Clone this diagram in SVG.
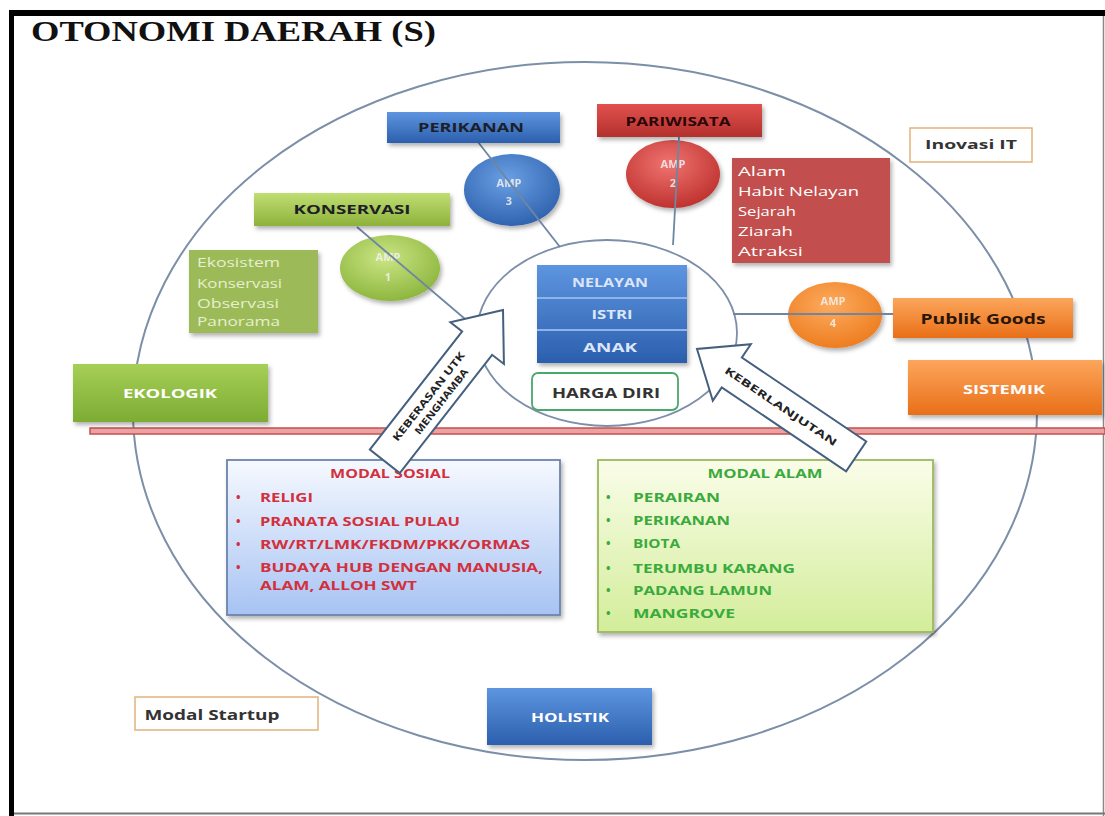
<svg xmlns="http://www.w3.org/2000/svg" width="1105" height="816" viewBox="0 0 1105 816">
<defs>
<linearGradient id="gBlue" x1="0" y1="0" x2="0" y2="1"><stop offset="0" stop-color="#5e95e0"/><stop offset="1" stop-color="#2b5fad"/></linearGradient>
<linearGradient id="gRed" x1="0" y1="0" x2="0" y2="1"><stop offset="0" stop-color="#e2514e"/><stop offset="1" stop-color="#b3302d"/></linearGradient>
<linearGradient id="gGreen" x1="0" y1="0" x2="0" y2="1"><stop offset="0" stop-color="#c0de72"/><stop offset="1" stop-color="#8db23b"/></linearGradient>
<linearGradient id="gEko" x1="0" y1="0" x2="0" y2="1"><stop offset="0" stop-color="#a6cf56"/><stop offset="1" stop-color="#7dac33"/></linearGradient>
<linearGradient id="gOrange" x1="0" y1="0" x2="0" y2="1"><stop offset="0" stop-color="#fca65c"/><stop offset="1" stop-color="#e96f18"/></linearGradient>
<linearGradient id="gSosial" x1="0" y1="0" x2="0" y2="1"><stop offset="0" stop-color="#f6f9ff"/><stop offset="1" stop-color="#a7c3f3"/></linearGradient>
<linearGradient id="gAlam" x1="0" y1="0" x2="0" y2="1"><stop offset="0" stop-color="#fafde9"/><stop offset="1" stop-color="#d3ed9a"/></linearGradient>
<radialGradient id="rBlue" cx="0.45" cy="0.35" r="0.7"><stop offset="0" stop-color="#6aa0e4"/><stop offset="1" stop-color="#2c5fab"/></radialGradient>
<radialGradient id="rRed" cx="0.45" cy="0.35" r="0.7"><stop offset="0" stop-color="#f07470"/><stop offset="1" stop-color="#bb2e2b"/></radialGradient>
<radialGradient id="rGreen" cx="0.45" cy="0.35" r="0.7"><stop offset="0" stop-color="#cbe584"/><stop offset="1" stop-color="#89b33a"/></radialGradient>
<radialGradient id="rOrange" cx="0.45" cy="0.35" r="0.7"><stop offset="0" stop-color="#fdab5e"/><stop offset="1" stop-color="#ec7a1c"/></radialGradient>
<filter id="sh" x="-10%" y="-10%" width="130%" height="140%"><feDropShadow dx="2" dy="3" stdDeviation="2" flood-color="#000" flood-opacity="0.3"/></filter>
</defs>
<style>
.lbl{font-family:"Open Sans","Liberation Sans",sans-serif;font-weight:bold;text-anchor:middle;dominant-baseline:central}
.dark{fill:#1e1e28}
.wht{fill:#ffffff}
.amp{font-family:"Open Sans","Liberation Sans",sans-serif;font-weight:bold;font-size:11px;fill:#f2f2f2;text-anchor:middle;dominant-baseline:central;opacity:0.85}
.lst{font-family:"Open Sans","Liberation Sans",sans-serif;font-size:12px;dominant-baseline:central}
.soc{font-family:"Open Sans","Liberation Sans",sans-serif;font-weight:bold;font-size:12px;fill:#d2303c;dominant-baseline:central}
.alm{font-family:"Open Sans","Liberation Sans",sans-serif;font-weight:bold;font-size:12px;fill:#3aaa3c;dominant-baseline:central}
.conn{stroke:#6f86a3;stroke-width:1.8;fill:none}
.arr{fill:#ffffff;stroke:#45607e;stroke-width:2}
.arrt{font-family:"Open Sans","Liberation Sans",sans-serif;font-weight:bold;font-size:10px;fill:#222;text-anchor:middle;dominant-baseline:central}
</style>
<rect x="0" y="0" width="1105" height="816" fill="#ffffff"/>
<!-- frame -->
<rect x="9" y="10" width="5" height="806" fill="#000"/>
<rect x="9" y="10" width="1096" height="6" fill="#000"/>
<line x1="1103.5" y1="16" x2="1103.5" y2="816" stroke="#888" stroke-width="1.5"/>
<line x1="14" y1="813.5" x2="1105" y2="813.5" stroke="#777" stroke-width="2"/>
<text x="31" y="41" font-family="Liberation Serif,serif" font-weight="bold" font-size="30" textLength="405" lengthAdjust="spacingAndGlyphs" fill="#111">OTONOMI DAERAH (S)</text>

<g id="outer-ellipse"><ellipse cx="585" cy="411" rx="452" ry="349" fill="none" stroke="#7c8fa8" stroke-width="2"/></g>
<g id="divider"><rect x="90" y="428" width="1015" height="6" fill="#eaa2a2" stroke="#c4504c" stroke-width="1.5"/></g>
<g id="inner-circle"><ellipse cx="607" cy="333" rx="130" ry="93" fill="#ffffff" stroke="#7c8fa8" stroke-width="1.8"/></g>

<g id="amp1"><ellipse cx="390" cy="268" rx="50" ry="33" fill="url(#rGreen)" filter="url(#sh)"/><text class="amp" x="388" y="256">AMP</text><text class="amp" x="388" y="276">1</text></g>
<g id="amp3"><ellipse cx="512" cy="190" rx="48" ry="36" fill="url(#rBlue)" filter="url(#sh)"/><text class="amp" x="509" y="182">AMP</text><text class="amp" x="509" y="200">3</text></g>
<g id="amp2"><ellipse cx="673" cy="174" rx="47" ry="34" fill="url(#rRed)" filter="url(#sh)"/><text class="amp" x="673" y="163">AMP</text><text class="amp" x="673" y="182">2</text></g>
<g id="amp4"><ellipse cx="835" cy="315" rx="47" ry="33" fill="url(#rOrange)" filter="url(#sh)"/><text class="amp" x="833" y="300">AMP</text><text class="amp" x="833" y="322">4</text></g>

<g id="connectors">
<line class="conn" x1="357" y1="227" x2="478" y2="330"/>
<line class="conn" x1="478" y1="142" x2="560" y2="247"/>
<line class="conn" x1="679" y1="137" x2="673" y2="245"/>
<line class="conn" x1="733" y1="314" x2="895" y2="314"/>
</g>

<g id="perikanan"><rect x="387" y="112" width="173" height="31" fill="url(#gBlue)" filter="url(#sh)"/><text class="lbl dark" x="471" y="127" font-size="12" textLength="106" lengthAdjust="spacingAndGlyphs">PERIKANAN</text></g>
<g id="pariwisata"><rect x="597" y="104" width="165" height="33" fill="url(#gRed)" filter="url(#sh)"/><text class="lbl" fill="#2a0808" x="678" y="121" font-size="12" textLength="105" lengthAdjust="spacingAndGlyphs">PARIWISATA</text></g>
<g id="pariwisata-list"><rect x="732" y="158" width="158" height="105" fill="#c2504d" filter="url(#sh)"/>
<text class="lst" fill="#ffffff" x="738" y="171" textLength="48" lengthAdjust="spacingAndGlyphs">Alam</text>
<text class="lst" fill="#ffffff" x="738" y="191" textLength="121" lengthAdjust="spacingAndGlyphs">Habit Nelayan</text>
<text class="lst" fill="#ffffff" x="738" y="211" textLength="58" lengthAdjust="spacingAndGlyphs">Sejarah</text>
<text class="lst" fill="#ffffff" x="738" y="231" textLength="55" lengthAdjust="spacingAndGlyphs">Ziarah</text>
<text class="lst" fill="#ffffff" x="738" y="251" textLength="65" lengthAdjust="spacingAndGlyphs">Atraksi</text></g>
<g id="konservasi"><rect x="254" y="193" width="196" height="33" fill="url(#gGreen)" filter="url(#sh)"/><text class="lbl dark" x="352" y="209" font-size="12" textLength="117" lengthAdjust="spacingAndGlyphs">KONSERVASI</text></g>
<g id="konservasi-list"><rect x="189" y="250" width="129" height="83" fill="#9cbb58" filter="url(#sh)"/>
<text class="lst" fill="#e6efcf" x="197" y="262" textLength="83" lengthAdjust="spacingAndGlyphs">Ekosistem</text>
<text class="lst" fill="#e6efcf" x="197" y="283" textLength="85" lengthAdjust="spacingAndGlyphs">Konservasi</text>
<text class="lst" fill="#e6efcf" x="197" y="303" textLength="82" lengthAdjust="spacingAndGlyphs">Observasi</text>
<text class="lst" fill="#e6efcf" x="197" y="321" textLength="83" lengthAdjust="spacingAndGlyphs">Panorama</text></g>
<g id="ekologik"><rect x="73" y="364" width="195" height="58" fill="url(#gEko)" filter="url(#sh)"/><text class="lbl wht" x="170" y="393" font-size="12" textLength="94" lengthAdjust="spacingAndGlyphs">EKOLOGIK</text></g>

<g id="keluarga">
<rect x="537" y="265" width="150" height="98" fill="url(#gBlue)" filter="url(#sh)"/>
<line x1="537" y1="298" x2="687" y2="298" stroke="#8fb2ea" stroke-width="2"/>
<line x1="537" y1="330" x2="687" y2="330" stroke="#8fb2ea" stroke-width="2"/>
<text class="lbl" fill="#dbe6fa" x="610" y="282" font-size="12" textLength="76" lengthAdjust="spacingAndGlyphs">NELAYAN</text>
<text class="lbl" fill="#dbe6fa" x="612" y="314" font-size="12" textLength="41" lengthAdjust="spacingAndGlyphs">ISTRI</text>
<text class="lbl" fill="#dbe6fa" x="610" y="347" font-size="12" textLength="54" lengthAdjust="spacingAndGlyphs">ANAK</text>
</g>
<g id="harga-diri"><rect x="532" y="373" width="146" height="37" rx="6" fill="#ffffff" stroke="#4aa86a" stroke-width="1.8"/><text class="lbl" fill="#333" x="606" y="392" font-size="14" textLength="108" lengthAdjust="spacingAndGlyphs">HARGA DIRI</text></g>

<g id="publik-goods"><rect x="893" y="298" width="180" height="40" fill="url(#gOrange)" filter="url(#sh)"/><text class="lbl" fill="#2a1606" x="983" y="318" font-size="14" textLength="125" lengthAdjust="spacingAndGlyphs">Publik Goods</text></g>
<g id="sistemik"><rect x="908" y="360" width="194" height="55" fill="url(#gOrange)" filter="url(#sh)"/><text class="lbl wht" x="1004" y="389" font-size="12" textLength="82" lengthAdjust="spacingAndGlyphs">SISTEMIK</text></g>
<g id="inovasi-it"><rect x="910" y="128" width="122" height="34" fill="#ffffff" stroke="#e2b27c" stroke-width="1.5"/><text class="lbl" fill="#333" x="971" y="144" font-size="13" textLength="92" lengthAdjust="spacingAndGlyphs">Inovasi IT</text></g>
<g id="modal-startup"><rect x="135" y="697" width="183" height="33" fill="#ffffff" stroke="#e2b27c" stroke-width="1.5"/><text class="lbl" fill="#333" x="212" y="714" font-size="14" textLength="135" lengthAdjust="spacingAndGlyphs">Modal Startup</text></g>
<g id="holistik"><rect x="487" y="688" width="165" height="57" fill="url(#gBlue)" filter="url(#sh)"/><text class="lbl wht" x="570" y="717" font-size="12" textLength="78" lengthAdjust="spacingAndGlyphs">HOLISTIK</text></g>

<g id="modal-sosial"><rect x="227" y="460" width="333" height="155" fill="url(#gSosial)" stroke="#6b84aa" stroke-width="1.8" filter="url(#sh)"/>
<text class="soc" x="390" y="473" text-anchor="middle" textLength="120" lengthAdjust="spacingAndGlyphs">MODAL SOSIAL</text>
<text class="soc" x="236" y="497">•</text><text class="soc" x="260" y="497" textLength="53" lengthAdjust="spacingAndGlyphs">RELIGI</text>
<text class="soc" x="236" y="521">•</text><text class="soc" x="260" y="521" textLength="200" lengthAdjust="spacingAndGlyphs">PRANATA SOSIAL PULAU</text>
<text class="soc" x="236" y="544">•</text><text class="soc" x="260" y="544" textLength="270" lengthAdjust="spacingAndGlyphs">RW/RT/LMK/FKDM/PKK/ORMAS</text>
<text class="soc" x="236" y="567">•</text><text class="soc" x="260" y="567" textLength="283" lengthAdjust="spacingAndGlyphs">BUDAYA HUB DENGAN MANUSIA,</text>
<text class="soc" x="260" y="585" textLength="157" lengthAdjust="spacingAndGlyphs">ALAM, ALLOH SWT</text></g>

<g id="modal-alam"><rect x="598" y="460" width="335" height="172" fill="url(#gAlam)" stroke="#9db85c" stroke-width="1.8" filter="url(#sh)"/>
<text class="alm" x="765" y="473" text-anchor="middle" textLength="115" lengthAdjust="spacingAndGlyphs">MODAL ALAM</text>
<text class="alm" x="606" y="497">•</text><text class="alm" x="633" y="497" textLength="87" lengthAdjust="spacingAndGlyphs">PERAIRAN</text>
<text class="alm" x="606" y="520">•</text><text class="alm" x="633" y="520" textLength="97" lengthAdjust="spacingAndGlyphs">PERIKANAN</text>
<text class="alm" x="606" y="543">•</text><text class="alm" x="633" y="543" textLength="47" lengthAdjust="spacingAndGlyphs">BIOTA</text>
<text class="alm" x="606" y="568">•</text><text class="alm" x="633" y="568" textLength="162" lengthAdjust="spacingAndGlyphs">TERUMBU KARANG</text>
<text class="alm" x="606" y="590">•</text><text class="alm" x="633" y="590" textLength="139" lengthAdjust="spacingAndGlyphs">PADANG LAMUN</text>
<text class="alm" x="606" y="613">•</text><text class="alm" x="633" y="613" textLength="102" lengthAdjust="spacingAndGlyphs">MANGROVE</text></g>

<g id="arrow-keberasan">
<polygon class="arr" transform="translate(503,310) rotate(-52)" points="0,0 -42,-34 -42,-19 -192,-19 -192,19 -42,19 -42,34"/>
<g transform="translate(433,400) rotate(-52)">
<text class="arrt" x="0" y="-6" textLength="110" lengthAdjust="spacingAndGlyphs">KEBERASAN  UTK</text>
<text class="arrt" x="4" y="7" textLength="80" lengthAdjust="spacingAndGlyphs">MENGHAMBA</text>
</g>
</g>
<g id="arrow-keberlanjutan">
<polygon class="arr" transform="translate(697,349) rotate(214)" points="0,0 -42,-34 -42,-18 -192,-18 -192,18 -42,18 -42,34"/>
<text class="arrt" transform="translate(781,406) rotate(34)" x="0" y="0" textLength="133" lengthAdjust="spacingAndGlyphs">KEBERLANJUTAN</text>
</g>
</svg>
